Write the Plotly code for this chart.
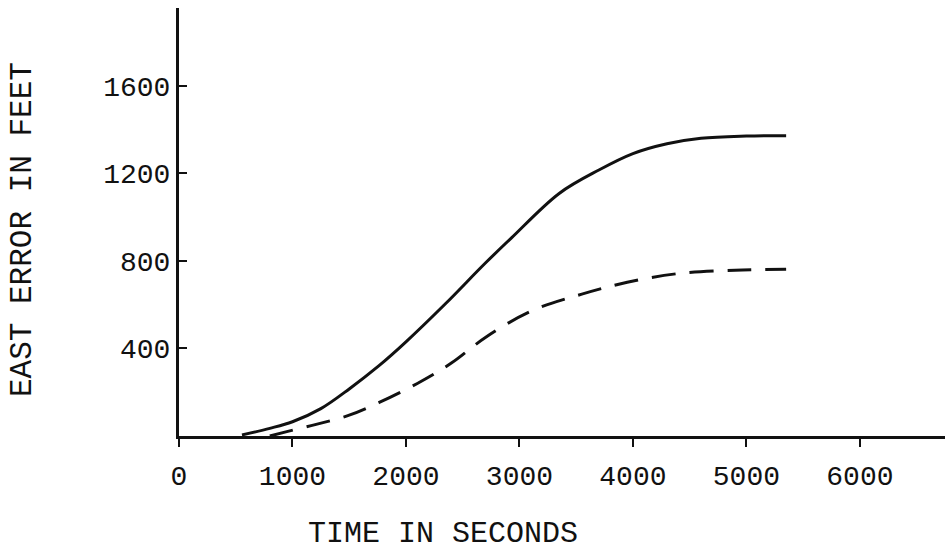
import plotly.graph_objects as go

# Solid curve (larger east error)
solid_t = [555, 800, 1000, 1250, 1500, 1760, 2000, 2350, 2700, 2930, 3350, 3700, 4000, 4300, 4600, 5000, 5350]
solid_v = [5, 35, 65, 125, 215, 320, 430, 605, 790, 905, 1108, 1215, 1290, 1335, 1360, 1370, 1372]

# Dashed curve (smaller east error)
dash_t = [800, 950, 1200, 1500, 1760, 2100, 2400, 2700, 3100, 3550, 3950, 4400, 4900, 5350]
dash_v = [0, 20, 52, 95, 152, 240, 333, 450, 570, 648, 702, 742, 757, 762]

x_ticks = [0, 1000, 2000, 3000, 4000, 5000, 6000]
y_ticks = [400, 800, 1200, 1600]

FONT = "Liberation Mono"
INK = "#111111"

fig = go.Figure()
fig.add_trace(go.Scatter(x=solid_t, y=solid_v, mode="lines",
                         line=dict(color=INK, width=3, shape="spline"),
                         showlegend=False))
fig.add_trace(go.Scatter(x=dash_t, y=dash_v, mode="lines",
                         line=dict(color=INK, width=3, shape="spline", dash="24px,14px"),
                         showlegend=False))

fig.update_layout(
    width=945, height=554,
    margin=dict(l=179, r=0, t=8, b=118),
    paper_bgcolor="white", plot_bgcolor="white",
    font=dict(family=FONT, color=INK, size=28),
    xaxis=dict(range=[0, 6750], tickvals=x_ticks, ticktext=[str(v) for v in x_ticks],
               showgrid=False, zeroline=False, showline=True, linecolor=INK, linewidth=3,
               ticks="outside", ticklen=8, tickwidth=2, tickcolor=INK,
               ticklabelstandoff=4, tickfont=dict(family=FONT, size=28, color=INK)),
    yaxis=dict(range=[0, 1955], tickvals=y_ticks, ticktext=[str(v) for v in y_ticks],
               showgrid=False, zeroline=False, showline=True, linecolor=INK, linewidth=3,
               ticks="inside", ticklen=8, tickwidth=2, tickcolor=INK,
               tickfont=dict(family=FONT, size=28, color=INK)),
    annotations=[
        dict(text="TIME IN SECONDS", xref="paper", yref="paper",
             x=(443 - 179) / 766, y=-(534 - 436) / 428, xanchor="center", yanchor="middle",
             showarrow=False, font=dict(family=FONT, size=30, color=INK)),
        dict(text="EAST ERROR IN FEET", xref="paper", yref="paper",
             x=-(179 - 22) / 766, y=(436 - 230) / 428, xanchor="center", yanchor="middle",
             textangle=-90, showarrow=False, font=dict(family=FONT, size=31, color=INK)),
    ],
)

fig.write_html("out.html")
